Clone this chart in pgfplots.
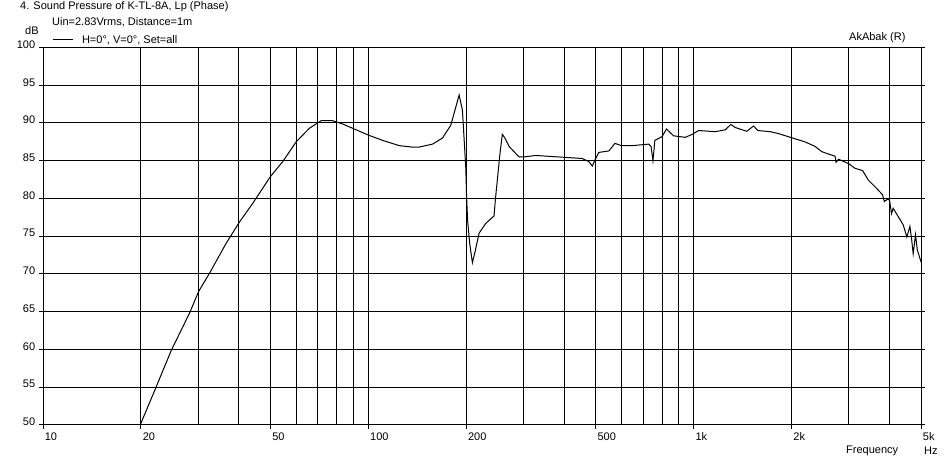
\documentclass[border=0pt]{standalone}
\usepackage{fontspec}
\setmainfont{Liberation Sans}
\usepackage{pgfplots}
\pgfplotsset{compat=1.18}
\begin{document}
\fontsize{11bp}{13bp}\selectfont
\begin{tikzpicture}[x=1bp,y=1bp]
\path[use as bounding box, fill=white] (-43,-38) rectangle (904,425);
\begin{axis}[
  at={(0,0)}, anchor=south west,
  scale only axis, width=878bp, height=377.5bp,
  xmode=log, xmin=10, xmax=5000, ymin=50, ymax=100,
  axis line style={black, line width=1bp},
  xtick={10,20,50,100,200,500,1000,2000,5000},
  xticklabels={10,20,50,100,200,500,1k,2k,5k},
  minor xtick={30,40,60,70,80,90,300,400,600,700,800,900,3000,4000},
  ytick={50,55,...,100},
  grid=both,
  major grid style={black, line width=1bp},
  minor grid style={black, line width=1bp},
  tick align=outside, xtick pos=lower, ytick pos=both, yticklabel pos=left,
  major tick length=4bp, minor tick length=0pt,
  tick style={black, line width=1bp},
  /pgf/number format/assume math mode=true,
  ticklabel style={font=\fontsize{11bp}{13bp}\selectfont},
  xticklabel style={anchor=north west, xshift=-2bp},
  yticklabel style={anchor=east, yshift=3bp},
  legend style={draw=none, fill=none, at={(axis description cs:0.0103,1.0199)}, anchor=west,
    inner sep=0pt, outer sep=0pt, font=\fontsize{11bp}{13bp}\selectfont,
    /tikz/every odd column/.append style={column sep=7bp}},
  legend cell align=left,
  legend image code/.code={\draw[#1] (0bp,0bp) -- (20bp,0bp);},
  clip=true,
]
\addplot[black, line width=1bp] coordinates {
(19.9,50.0) (22.06,54.6) (24.8,59.9) (28.2,64.8) (30.1,67.7) (32.5,70.1) (36.6,74.1)
(40.2,76.9) (44.2,79.4) (50,82.9) (54.6,84.9) (60,87.5) (65.9,89.3) (71.6,90.3)
(77.7,90.3) (83,89.9) (89.5,89.3) (100,88.4) (110.6,87.7) (124.5,87.0) (136.8,86.8)
(143,86.8) (157.5,87.2) (169,88.0) (179.3,89.7) (190.2,93.7) (194.7,91.7) (199.4,84.0)
(200.5,80.2) (202,77) (205,74) (208.9,71.5) (213,73) (219,75.4) (229.6,76.7)
(243.5,77.7) (246,80) (249.3,82.5) (254,86) (258.2,88.5) (263,88) (270.7,86.9)
(290.6,85.5) (300,85.5) (327,85.7) (385,85.5) (454,85.3) (476,84.9) (488,84.3)
(500,85.3) (511,86.1) (549,86.3) (573,87.3) (600,87.0) (647,87.0) (728,87.2)
(740,86.9) (750,85.0) (760,87.7) (800,88.2) (825,89.2) (868,88.3) (943,88.1)
(990,88.5) (1036,89.0) (1166,88.85) (1251,89.1) (1301,89.8) (1343,89.4) (1457,88.9)
(1528,89.6) (1576,89.0) (1719,88.85) (1823,88.6) (2000,88.05) (2200,87.5) (2362,86.9)
(2476,86.2) (2721,85.6) (2740,84.8) (2790,85.2) (3000,84.6) (3133,84.0) (3307,83.7)
(3442,82.45) (3650,81.35) (3808,80.5) (3857,79.6) (3945,79.9) (4000,79.8) (4058,78.0)
(4105,78.7) (4255,77.6) (4409,76.5) (4523,74.9) (4621,76.3) (4670,74.9) (4730,72.7)
(4810,75.2) (4870,73.2) (5000,71.6)
};
\addlegendentry{H=0°, V=0°, Set=all}
\end{axis}
\node[anchor=west, inner sep=0pt] at (-23,418) {4. Sound Pressure of K-TL-8A, Lp (Phase)};
\node[anchor=west, inner sep=0pt] at (9,403) {Uin=2.83Vrms, Distance=1m};
\node[anchor=west, inner sep=0pt] at (-18,394) {dB};
\node[anchor=west, inner sep=0pt] at (806,387) {AkAbak (R)};
\node[anchor=west, inner sep=0pt] at (803,-26) {Frequency};
\node[anchor=west, inner sep=0pt] at (881,-26) {Hz};
\end{tikzpicture}
\end{document}
